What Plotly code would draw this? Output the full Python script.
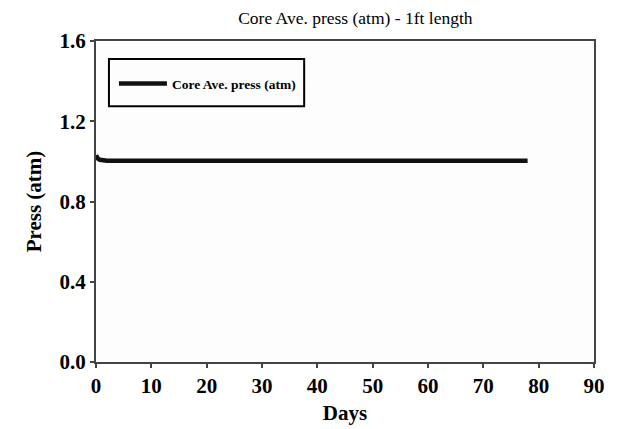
import plotly.graph_objects as go

# Core average pressure over time, 1 ft core length
days = [0, 0.3, 0.7, 1.2, 2, 4, 8, 15, 25, 35, 45, 55, 65, 72, 78]
press_atm = [1.03, 1.015, 1.008, 1.004, 1.003, 1.003, 1.003, 1.003, 1.003,
             1.003, 1.003, 1.003, 1.003, 1.003, 1.003]

x_ticks = [0, 10, 20, 30, 40, 50, 60, 70, 80, 90]
y_ticks = [0.0, 0.4, 0.8, 1.2, 1.6]

serif = "Liberation Serif"

fig = go.Figure()
fig.add_trace(go.Scatter(
    x=days, y=press_atm, mode="lines",
    name="<b>Core Ave. press (atm)</b>",
    line=dict(color="#111111", width=4.5),
))

axis_common = dict(
    showgrid=False, zeroline=False, showline=True, mirror=True,
    linecolor="#444444", linewidth=2, automargin=False,
    ticks="outside", ticklen=4, tickwidth=1.5, tickcolor="#444444",
    tickfont=dict(family=serif, size=21, color="black", weight="bold"),
)

fig.update_layout(
    width=618, height=429,
    margin=dict(l=96, r=24, t=41, b=67),
    paper_bgcolor="white", plot_bgcolor="#fdfdfd",
    title=dict(text="Core Ave. press (atm) - 1ft length",
               font=dict(family=serif, size=17.5, color="black"),
               x=0.575, xanchor="center", y=0.972, yanchor="top"),
    xaxis=dict(range=[0, 90], tickvals=x_ticks,
               ticktext=[str(v) for v in x_ticks],
               title=dict(text="<b>Days</b>", standoff=8,
                          font=dict(family=serif, size=21, color="black")),
               **axis_common),
    yaxis=dict(range=[0, 1.6], tickvals=y_ticks,
               ticktext=[f"{v:.1f}" for v in y_ticks],
               title=dict(text="<b>Press (atm)</b>", standoff=12,
                          font=dict(family=serif, size=21, color="black")),
               **axis_common),
    showlegend=True,
    legend=dict(x=0.036, y=0.915, xanchor="left", yanchor="top",
                bgcolor="rgba(0,0,0,0)", borderwidth=0,
                itemwidth=48,
                font=dict(family=serif, size=13.5, color="black")),
    shapes=[dict(type="rect", xref="paper", yref="paper",
                 x0=0.026, x1=0.418, y0=0.797, y1=0.944,
                 line=dict(color="black", width=2), fillcolor="rgba(0,0,0,0)")],
)

fig.write_html("out.html")
